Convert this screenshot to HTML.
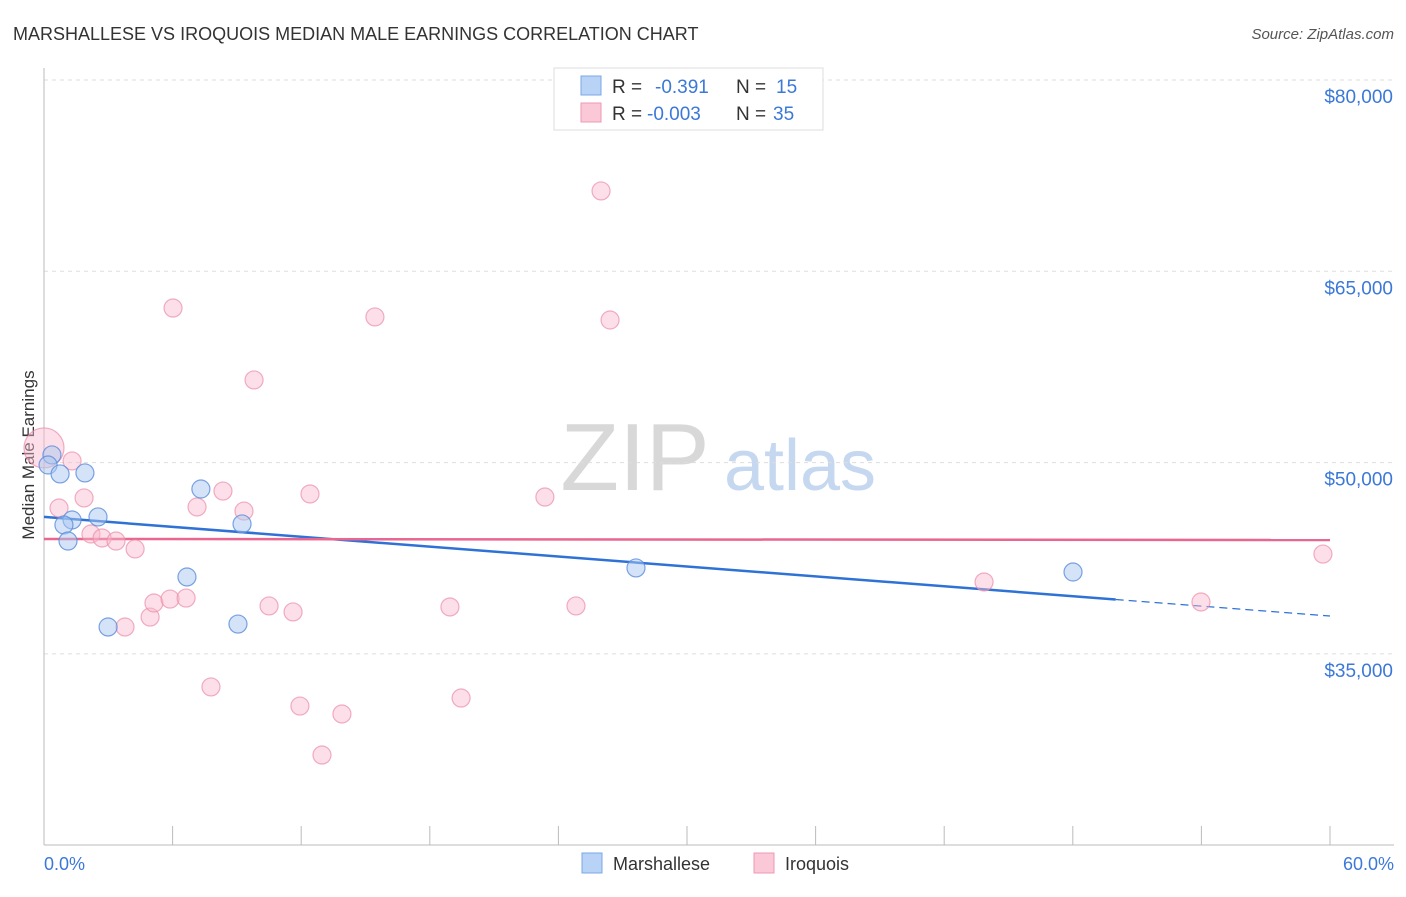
<!DOCTYPE html>
<html><head><meta charset="utf-8"><style>
body{margin:0;background:#fff;font-family:"Liberation Sans",sans-serif;}
svg text{font-family:"Liberation Sans",sans-serif;}
</style></head><body>
<svg id="chart" width="1406" height="892" xmlns="http://www.w3.org/2000/svg">
<text x="13" y="40" font-size="18" fill="#333">MARSHALLESE VS IROQUOIS MEDIAN MALE EARNINGS CORRELATION CHART</text>
<text x="1394" y="39" font-size="15" fill="#555" text-anchor="end" font-style="italic">Source: ZipAtlas.com</text>
<text transform="translate(34,455) rotate(-90)" font-size="17" fill="#333" text-anchor="middle">Median Male Earnings</text>
<g>
<text x="635" y="490" font-size="96" fill="#d8d8d8" text-anchor="middle" font-family="Liberation Serif,serif">ZIP</text>
<text x="800" y="490" font-size="72" fill="#c5d8f0" text-anchor="middle">atlas</text>
</g>
<g id="grid"></g><g id="axes"></g><g id="lines"></g><g id="points"></g>
<g>
<rect x="554" y="68" width="269" height="62" fill="#fff" stroke="#ddd"/>
<rect x="581" y="76" width="20" height="19" fill="#b8d3f5" stroke="#7aa7e6"/>
<text x="612" y="93" font-size="19" fill="#333">R =</text><text x="655" y="93" font-size="19" fill="#3b78d8">-0.391</text>
<text x="736" y="93" font-size="19" fill="#333">N =</text><text x="776" y="93" font-size="19" fill="#3b78d8">15</text>
<rect x="581" y="103" width="20" height="19" fill="#fac8d6" stroke="#ee9ab4"/>
<text x="612" y="120" font-size="19" fill="#333">R =</text><text x="647" y="120" font-size="19" fill="#3b78d8">-0.003</text>
<text x="736" y="120" font-size="19" fill="#333">N =</text><text x="773" y="120" font-size="19" fill="#3b78d8">35</text>
</g>
<g>
<rect x="582" y="853" width="20" height="20" fill="#b8d3f5" stroke="#7aa7e6"/>
<text x="613" y="870" font-size="18" fill="#333">Marshallese</text>
<rect x="754" y="853" width="20" height="20" fill="#fac8d6" stroke="#ee9ab4"/>
<text x="785" y="870" font-size="18" fill="#333">Iroquois</text>
</g>
</svg>
<script>
const yTicks=[80000,65000,50000,35000];
const yTickLabels=["$80,000","$65,000","$50,000","$35,000"];
const xTickCount=[0,6,12,18,24,30,36,42,48,54,60];
const xLabels=["0.0%","60.0%"];
const blueX=[0.37,0.19,0.75,1.91,1.31,0.93,1.12,2.52,2.99,6.67,7.32,9.24,9.05,27.62,48.01];
const blueY=[50600,49810,49110,49190,45500,45110,43850,45740,37110,41030,47930,45190,37340,41740,41420];
const pinkX=[0,1.31,1.87,0.70,6.02,9.80,7.14,8.35,9.33,12.41,2.19,2.71,3.36,4.25,3.78,4.95,5.13,5.88,6.63,7.79,10.50,11.62,11.94,12.97,13.90,15.44,18.94,19.46,23.37,24.82,25.99,26.41,43.86,53.98,59.67];
const pinkY=[51150,50130,47230,46440,62120,56480,46520,47770,46200,47540,44400,44090,43850,43230,37110,37890,38990,39300,39380,32410,38760,38290,30910,27070,30290,61420,38680,31540,47300,38760,71300,61180,40640,39070,42830];
const blueTrend=[45740,37970];
const pinkTrend=[44010,43930];
const NS="http://www.w3.org/2000/svg";
const X=v=>44+v/60*1286;
const Y=v=>80+(80000-v)/15000*191.3;
function mk(t,a,p){const e=document.createElementNS(NS,t);for(const k in a)e.setAttribute(k,a[k]);document.getElementById(p).appendChild(e);return e;}
yTicks.forEach((t,i)=>{
 const l=mk('line',{x1:44,x2:1394,y1:Y(t),y2:Y(t),stroke:'#ddd','stroke-dasharray':'4,4'},'grid');
 
 
 const tx=mk('text',{x:1393,y:Y(t)+23,'font-size':19,fill:'#3b78d8','text-anchor':'end'},'grid');
 tx.textContent=yTickLabels[i];
 
 
});
mk('line',{x1:44,x2:44,y1:68,y2:845,stroke:'#bbb'},'axes');
mk('line',{x1:44,x2:1394,y1:845,y2:845,stroke:'#bbb'},'axes');
xTickCount.forEach(t=>{
 const l=mk('line',{x1:X(t),x2:X(t),y1:826,y2:845,stroke:'#bbb'},'axes');
 
 
});
const a=mk('text',{x:44,y:870,'font-size':18,fill:'#3b78d8'},'axes');a.textContent=xLabels[0];


const b=mk('text',{x:1394,y:870,'font-size':18,fill:'#3b78d8','text-anchor':'end'},'axes');b.textContent=xLabels[1];


// trend lines
const bAt=x=>blueTrend[0]+(blueTrend[1]-blueTrend[0])*x/60;
const bl=mk('line',{x1:X(0),y1:Y(bAt(0)),x2:X(50),y2:Y(bAt(50)),stroke:'#2f72d6','stroke-width':2.5},'lines');


const bd=mk('line',{x1:X(50),y1:Y(bAt(50)),x2:X(60),y2:Y(bAt(60)),stroke:'#2f72d6','stroke-width':1.2,'stroke-dasharray':'8,5'},'lines');


const pl=mk('line',{x1:X(0),y1:Y(pinkTrend[0]),x2:X(60),y2:Y(pinkTrend[1]),stroke:'#e8668f','stroke-width':2.5},'lines');


pinkX.forEach((x,i)=>{
 const c=mk('circle',{cx:X(x),cy:Y(pinkY[i]),r:i==0?20:9,fill:'rgba(248,184,204,0.45)',stroke:'rgba(236,140,170,0.7)','stroke-width':1.2},'points');
 
 
});
blueX.forEach((x,i)=>{
 const c=mk('circle',{cx:X(x),cy:Y(blueY[i]),r:9,fill:'rgba(170,200,240,0.5)',stroke:'rgba(90,140,220,0.8)','stroke-width':1.2},'points');
 
 
});
</script>
</body></html>
